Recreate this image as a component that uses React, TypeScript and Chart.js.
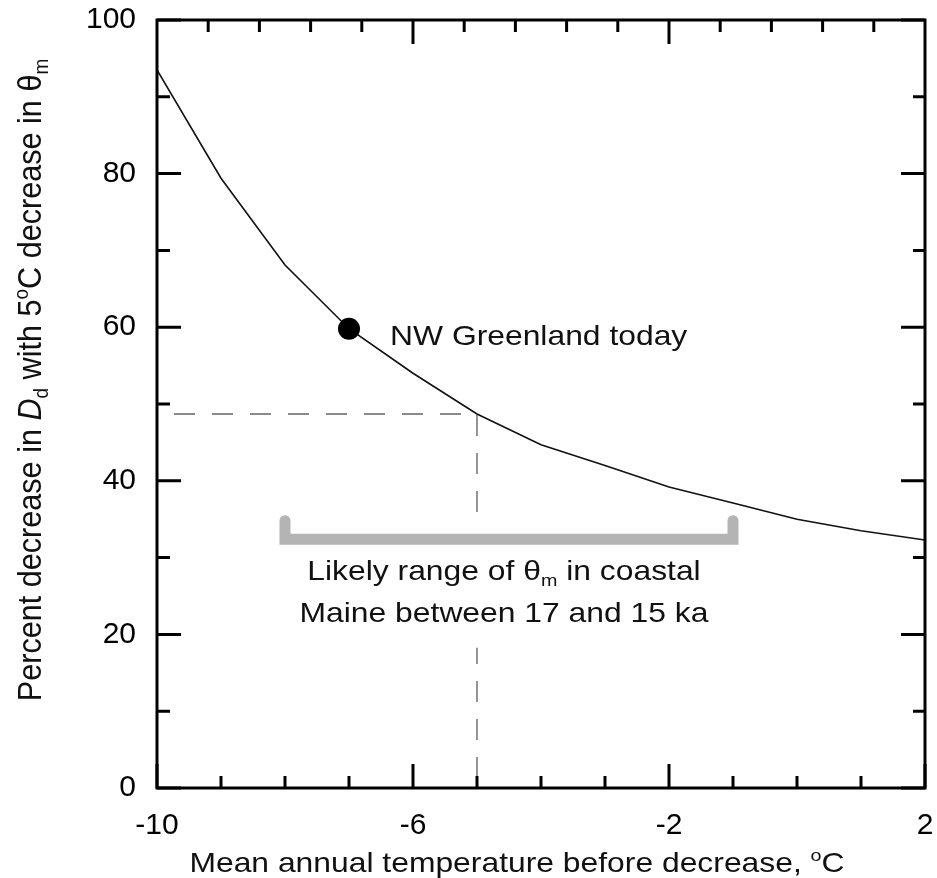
import React, { useEffect, useRef } from "react";
import { Chart, registerables } from "chart.js";

Chart.register(...registerables);

// ---- data ----
const temperatures = [-10, -9, -8, -7, -6, -5, -4, -3, -2, -1, 0, 1, 2];
const percentDecrease = [93.5, 79.4, 68.1, 59.8, 54.0, 48.7, 44.7, 42.0, 39.2, 37.1, 35.0, 33.5, 32.3];

const greenlandTemp = -7;
const greenlandPercent = 59.8;

const guideTemp = -5;
const guidePercent = 48.7;

const rangeStart = -8;
const rangeEnd = -1;
const bracketBase = 32.4;
const bracketTop = 34.8;

// ---- ticks ----
const xTickLabels = [-10, -6, -2, 2];
const xMinorTicks = [-9, -8, -7, -5, -4, -3, -1, 0, 1];
const topMajorTicks = [-6, -2];
const topMinorTicks = [-9.2, -8.4, -7.6, -6.8, -5.2, -4.4, -3.6, -2.8, -1.2, -0.4, 0.4, 1.2];
const yTickLabels = [0, 20, 40, 60, 80, 100];
const yMinorTicks = [10, 30, 50, 70, 90];

const FONT = '"Liberation Sans", Arial, Helvetica, sans-serif';
const TEXT_COLOR = "#111";
const STRETCH = 1.137;

type Seg = { t: string; italic?: boolean; sub?: boolean; sup?: boolean };

function segFont(s: Seg, size: number) {
  const sz = s.sub || s.sup ? size * 0.62 : size;
  return `${s.italic ? "italic " : ""}${sz}px ${FONT}`;
}

function drawRich(
  ctx: CanvasRenderingContext2D,
  segs: Seg[],
  x: number,
  y: number,
  size: number,
  align: "left" | "center",
  sx: number,
  sy: number
) {
  ctx.save();
  ctx.translate(x, y);
  ctx.scale(sx, sy);
  ctx.fillStyle = TEXT_COLOR;
  ctx.textBaseline = "alphabetic";
  ctx.textAlign = "left";
  let total = 0;
  for (const s of segs) {
    ctx.font = segFont(s, size);
    total += ctx.measureText(s.t).width;
  }
  let cx = align === "center" ? -total / 2 : 0;
  for (const s of segs) {
    ctx.font = segFont(s, size);
    const dy = s.sub ? size * 0.2 : s.sup ? -size * 0.38 : 0;
    ctx.fillText(s.t, cx, dy);
    cx += ctx.measureText(s.t).width;
  }
  ctx.restore();
}

const yTitle: Seg[] = [
  { t: "Percent decrease in " },
  { t: "D", italic: true },
  { t: "d", sub: true },
  { t: " with 5" },
  { t: "o", sup: true },
  { t: "C decrease in θ" },
  { t: "m", sub: true },
];
const xTitle: Seg[] = [
  { t: "Mean annual temperature before decrease, " },
  { t: "o", sup: true },
  { t: "C" },
];
const pointLabel: Seg[] = [{ t: "NW Greenland today" }];
const rangeLine1: Seg[] = [
  { t: "Likely range of θ" },
  { t: "m", sub: true },
  { t: " in coastal" },
];
const rangeLine2: Seg[] = [{ t: "Maine between 17 and 15 ka" }];

const framePlugin = {
  id: "framePlugin",
  afterDatasetDraw(chart: any, args: any) {
    // white box behind the range caption, drawn right after the dashed guide
    if (args.index !== 3) return;
    const { ctx } = chart;
    const x = chart.scales.x;
    const y = chart.scales.y;
    const cx = (x.getPixelForValue(rangeStart) + x.getPixelForValue(rangeEnd)) / 2;
    const top = y.getPixelForValue(bracketTop) - 2;
    ctx.save();
    ctx.fillStyle = "#fff";
    ctx.fillRect(cx - 215, top, 430, 129);
    ctx.restore();
  },
  afterDraw(chart: any) {
    const { ctx, chartArea } = chart;
    const x = chart.scales.x;
    const y = chart.scales.y;
    const { left, right, top, bottom } = chartArea;
    ctx.save();
    ctx.strokeStyle = "#000";
    ctx.lineWidth = 3;
    ctx.lineCap = "butt";
    ctx.strokeRect(left, top, right - left, bottom - top);
    const major = 24;
    const minor = 12;
    ctx.beginPath();
    // bottom
    for (const v of xTickLabels) {
      const p = x.getPixelForValue(v);
      ctx.moveTo(p, bottom);
      ctx.lineTo(p, bottom - major);
    }
    for (const v of xMinorTicks) {
      const p = x.getPixelForValue(v);
      ctx.moveTo(p, bottom);
      ctx.lineTo(p, bottom - minor);
    }
    // top
    for (const v of topMajorTicks) {
      const p = x.getPixelForValue(v);
      ctx.moveTo(p, top);
      ctx.lineTo(p, top + major);
    }
    for (const v of topMinorTicks) {
      const p = x.getPixelForValue(v);
      ctx.moveTo(p, top);
      ctx.lineTo(p, top + minor);
    }
    // left & right
    for (const v of yTickLabels) {
      const p = y.getPixelForValue(v);
      ctx.moveTo(left, p);
      ctx.lineTo(left + major, p);
      ctx.moveTo(right, p);
      ctx.lineTo(right - major, p);
    }
    for (const v of yMinorTicks) {
      const p = y.getPixelForValue(v);
      ctx.moveTo(left, p);
      ctx.lineTo(left + minor + 1, p);
      ctx.moveTo(right, p);
      ctx.lineTo(right - minor, p);
    }
    ctx.stroke();
    ctx.restore();

    // annotations
    const gx = x.getPixelForValue(greenlandTemp);
    const gy = y.getPixelForValue(greenlandPercent);
    drawRich(ctx, pointLabel, gx + 41, gy + 16, 28, "left", STRETCH, 1);

    const cx = (x.getPixelForValue(rangeStart) + x.getPixelForValue(rangeEnd)) / 2 - 5;
    const by = y.getPixelForValue(bracketBase);
    drawRich(ctx, rangeLine1, cx, by + 41, 28, "center", STRETCH, 1);
    drawRich(ctx, rangeLine2, cx, by + 83, 28, "center", STRETCH, 1);

    // axis titles
    drawRich(ctx, xTitle, left + 360, bottom + 84, 28, "center", STRETCH, 1);
    ctx.save();
    ctx.translate(41, top + 360);
    ctx.rotate(-Math.PI / 2);
    drawRich(ctx, yTitle, 0, 0, 34, "center", 0.9, 1);
    ctx.restore();
  },
};

function noPad(s: any) {
  s.paddingTop = 0;
  s.paddingBottom = 0;
  s.paddingLeft = 0;
  s.paddingRight = 0;
}

export default function App() {
  const ref = useRef<HTMLCanvasElement | null>(null);

  useEffect(() => {
    document.body.style.margin = "0";
    const canvas = ref.current;
    if (!canvas) return;
    const chart = new Chart(canvas, {
      type: "scatter",
      data: {
        datasets: [
          {
            label: "Percent decrease",
            data: temperatures.map((t, i) => ({ x: t, y: percentDecrease[i] })),
            showLine: true,
            borderColor: "#111",
            borderWidth: 1.6,
            pointRadius: 0,
            tension: 0,
            order: 1,
          },
          {
            label: "NW Greenland today",
            data: [{ x: greenlandTemp, y: greenlandPercent }],
            showLine: false,
            pointRadius: 11,
            pointBackgroundColor: "#000",
            pointBorderWidth: 0,
            order: 0,
          },
          {
            label: "Likely range",
            data: [
              { x: rangeStart, y: bracketTop },
              { x: rangeStart, y: bracketBase },
              { x: rangeEnd, y: bracketBase },
              { x: rangeEnd, y: bracketTop },
            ],
            showLine: true,
            borderColor: "#b4b4b4",
            borderWidth: 11,
            borderCapStyle: "round",
            borderJoinStyle: "miter",
            pointRadius: 0,
            tension: 0,
            order: 2,
          },
          {
            label: "Guide",
            data: [
              { x: -10, y: guidePercent },
              { x: guideTemp, y: guidePercent },
              { x: guideTemp, y: 0 },
            ],
            showLine: true,
            borderColor: "#8a8a8a",
            borderWidth: 1.8,
            borderDash: [21, 17],
            borderDashOffset: 21,
            pointRadius: 0,
            tension: 0,
            order: 3,
          },
        ],
      },
      options: {
        animation: false,
        responsive: false,
        maintainAspectRatio: false,
        layout: { padding: { left: 0, right: 12, top: 20, bottom: 0 } },
        plugins: {
          legend: { display: false },
          tooltip: { enabled: false },
        },
        scales: {
          x: {
            type: "linear",
            position: "bottom",
            min: -10,
            max: 2,
            grid: { display: false, drawTicks: false },
            border: { display: false },
            ticks: {
              stepSize: 4,
              maxRotation: 0,
              autoSkip: false,
              padding: 20,
              color: "#000",
              font: { family: FONT, size: 30 },
            },
            afterFit: (s: any) => {
              s.height = 90;
              noPad(s);
            },
          },
          y: {
            type: "linear",
            min: 0,
            max: 100,
            grid: { display: false, drawTicks: false },
            border: { display: false },
            ticks: {
              stepSize: 20,
              padding: 21,
              color: "#000",
              font: { family: FONT, size: 30 },
            },
            afterFit: (s: any) => {
              s.width = 157;
              noPad(s);
            },
          },
        },
      },
      plugins: [framePlugin],
    } as any);
    return () => chart.destroy();
  }, []);

  return (
    <div style={{ width: 937, height: 878, background: "#fff" }}>
      <canvas ref={ref} width={937} height={878} style={{ display: "block" }} />
    </div>
  );
}
